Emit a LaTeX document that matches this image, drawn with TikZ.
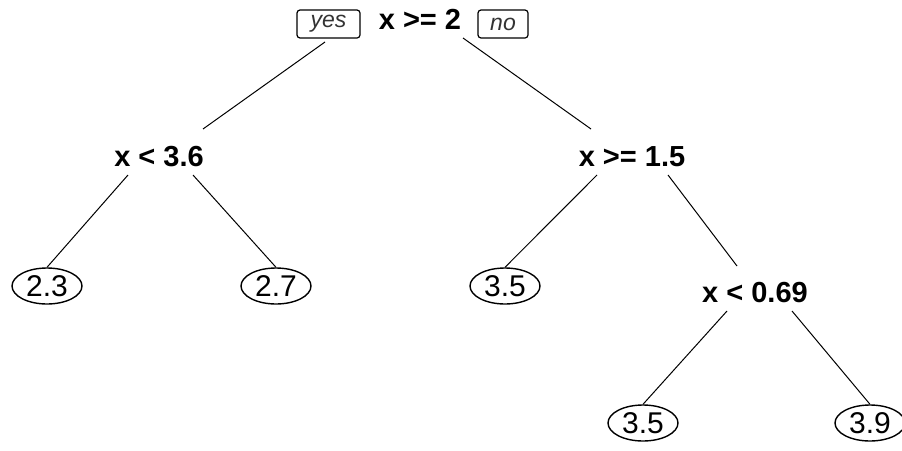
\documentclass[tikz,border=0pt]{standalone}
\usepackage{fontspec}
\setmainfont{Liberation Sans}
\usetikzlibrary{shapes.geometric}
\tikzset{
  splitnode/.style={font=\fontsize{29}{34}\selectfont\bfseries, inner sep=0pt},
  leafnode/.style={ellipse, draw, line width=1.4pt, minimum width=70pt, minimum height=36pt, inner sep=0pt, font=\fontsize{30}{34}\selectfont},
  labnode/.style={draw, rounded corners=3pt, line width=1.2pt, font=\fontsize{23}{27}\selectfont\itshape, text=black!80, minimum height=28pt, inner sep=0pt},
  branch/.style={line width=1pt}
}
\begin{document}
\begin{tikzpicture}[x=1pt,y=-1pt]
\useasboundingbox (0,0) rectangle (902,450);
% split nodes
\node[splitnode] (root) at (420,19) {x >= 2};
\node[splitnode] (n1) at (159,157) {x < 3.6};
\node[splitnode] (n2) at (632,157) {x >= 1.5};
\node[splitnode] (n3) at (755,293) {x < 0.69};
% yes / no labels
\node[labnode, minimum width=63pt] (yes) at (328.5,24) {yes};
\node[labnode, minimum width=50pt] (no) at (503,24) {no};
% leaves
\node[leafnode] (l1) at (47,286) {2.3};
\node[leafnode] (l2) at (276,286) {2.7};
\node[leafnode] (l3) at (505,286) {3.5};
\node[leafnode] (l4) at (643,423) {3.5};
\node[leafnode] (l5) at (870,423) {3.9};
% branch end points
\coordinate (r1) at (325,42);
\coordinate (r2) at (463,38);
\coordinate (c1) at (203,129);
\coordinate (c2) at (591,129);
\coordinate (a1) at (128,175);
\coordinate (a2) at (193,175);
\coordinate (b1) at (597,175);
\coordinate (b2) at (668,175);
\coordinate (b3) at (737,266);
\coordinate (d1) at (727,311);
\coordinate (d2) at (792,311);
% branches
\draw[branch] (r1) -- (c1);
\draw[branch] (r2) -- (c2);
\draw[branch] (a1) -- (l1.north);
\draw[branch] (a2) -- (l2.north);
\draw[branch] (b1) -- (l3.north);
\draw[branch] (b2) -- (b3);
\draw[branch] (d1) -- (l4.north);
\draw[branch] (d2) -- (l5.north);
\end{tikzpicture}
\end{document}
